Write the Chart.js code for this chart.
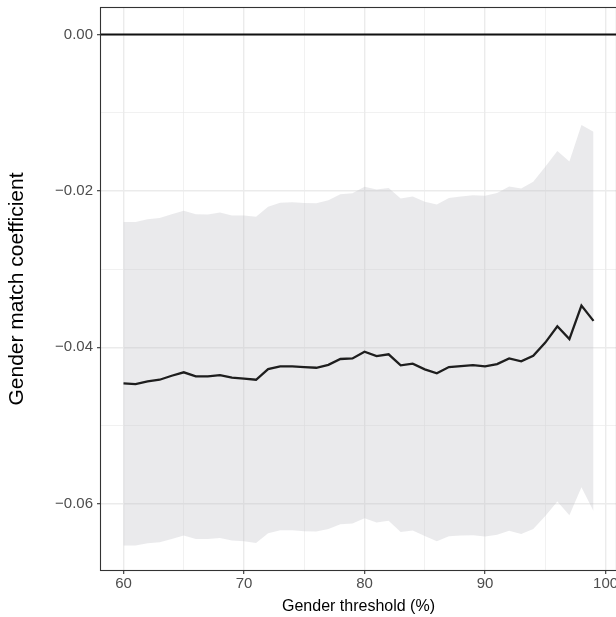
<!DOCTYPE html>
<html>
<head>
<meta charset="utf-8">
<script src="https://cdn.jsdelivr.net/npm/chart.js@4.4.1/dist/chart.umd.min.js"></script>
<style>
  html, body { margin: 0; padding: 0; background: #fff; overflow: hidden; }
  #wrap { width: 640px; height: 617px; }
</style>
</head>
<body>
<div id="wrap"><canvas id="chart" width="640" height="617"></canvas></div>
<script>
// gender threshold (%) on the x axis
const thresholds = [60, 61, 62, 63, 64, 65, 66, 67, 68, 69,
  70, 71, 72, 73, 74, 75, 76, 77, 78, 79,
  80, 81, 82, 83, 84, 85, 86, 87, 88, 89,
  90, 91, 92, 93, 94, 95, 96, 97, 98, 99];

// point estimate
const coef = [-0.04461, -0.04470, -0.04435, -0.04415, -0.04364, -0.04320, -0.04372, -0.04372, -0.04355, -0.04389,
  -0.04400, -0.04415, -0.04280, -0.04245, -0.04245, -0.04255, -0.04262, -0.04224, -0.04150, -0.04142,
  -0.04057, -0.04112, -0.04090, -0.04231, -0.04210, -0.04282, -0.04333, -0.04253, -0.04240, -0.04227,
  -0.04244, -0.04215, -0.04142, -0.04180, -0.04108, -0.03940, -0.03731, -0.03895, -0.03466, -0.03662];

// confidence band
const upper = [-0.02397, -0.02397, -0.02363, -0.02346, -0.02299, -0.02256, -0.02299, -0.02303, -0.02278, -0.02316,
  -0.02316, -0.02330, -0.02202, -0.02151, -0.02147, -0.02155, -0.02160, -0.02121, -0.02045, -0.02032,
  -0.01948, -0.01982, -0.01965, -0.02097, -0.02071, -0.02139, -0.02174, -0.02093, -0.02071, -0.02058,
  -0.02062, -0.02028, -0.01944, -0.01969, -0.01884, -0.01692, -0.01492, -0.01625, -0.01157, -0.01246];

const lower = [-0.06535, -0.06535, -0.06505, -0.06492, -0.06450, -0.06407, -0.06450, -0.06450, -0.06437, -0.06471,
  -0.06480, -0.06501, -0.06377, -0.06339, -0.06339, -0.06352, -0.06356, -0.06322, -0.06262, -0.06254,
  -0.06185, -0.06241, -0.06219, -0.06360, -0.06343, -0.06411, -0.06480, -0.06415, -0.06407, -0.06402,
  -0.06420, -0.06398, -0.06347, -0.06386, -0.06322, -0.06156, -0.05973, -0.06147, -0.05789, -0.06092];

const yTicks = [0, -0.02, -0.04, -0.06];
const xTicks = [60, 70, 80, 90, 100];
const refLine = 0;

const xMin = 58.05, xMax = 100.95;
const yMin = -0.0686, yMax = 0.0035;

const toPts = arr => thresholds.map((t, i) => ({ x: t, y: arr[i] }));
const isMajorY = v => yTicks.some(t => Math.abs(t - v) < 1e-9);

const gridMajor = '#EBEBEB';
const font = '"Liberation Sans", Arial, Helvetica, sans-serif';

// ggplot style panel border on top of everything
const panelBorder = {
  id: 'panelBorder',
  afterDatasetsDraw(chart) {
    const { ctx, chartArea: a } = chart;
    ctx.save();
    ctx.strokeStyle = '#333333';
    ctx.lineWidth = 1.1;
    ctx.strokeRect(a.left + 0.5, a.top + 0.5, a.right - a.left - 1, a.bottom - a.top - 1);
    ctx.restore();
  }
};

new Chart(document.getElementById('chart'), {
  type: 'line',
  data: {
    datasets: [
      {
        label: 'coef',
        data: toPts(coef),
        borderColor: '#1e1e1e',
        borderWidth: 2.3,
        pointRadius: 0,
        tension: 0,
        fill: false,
        order: 0
      },
      {
        label: 'zero',
        data: [{ x: xMin, y: refLine }, { x: xMax, y: refLine }],
        borderColor: '#111111',
        borderWidth: 2,
        pointRadius: 0,
        fill: false,
        order: 1
      },
      {
        label: 'upper',
        data: toPts(upper),
        borderWidth: 0,
        borderColor: 'rgba(0,0,0,0)',
        backgroundColor: 'rgba(190,190,198,0.33)',
        pointRadius: 0,
        tension: 0,
        fill: '+1',
        order: 2
      },
      {
        label: 'lower',
        data: toPts(lower),
        borderWidth: 0,
        borderColor: 'rgba(0,0,0,0)',
        pointRadius: 0,
        tension: 0,
        fill: false,
        order: 3
      }
    ]
  },
  options: {
    responsive: false,
    animation: false,
    layout: { padding: { left: 0, top: 7, right: 23, bottom: 0 } },
    plugins: {
      legend: { display: false },
      tooltip: { enabled: false }
    },
    scales: {
      x: {
        type: 'linear',
        min: xMin,
        max: xMax,
        afterFit(scale) {
          scale.height = 46;
          scale.paddingLeft = 0;
          scale.paddingRight = 0;
        },
        afterBuildTicks(scale) {
          scale.ticks = [60, 65, 70, 75, 80, 85, 90, 95, 100].map(v => ({ value: v }));
        },
        ticks: {
          color: '#4D4D4D',
          font: { family: font, size: 15 },
          padding: 1,
          maxRotation: 0,
          autoSkip: false,
          callback: v => (xTicks.includes(v) ? String(v) : '')
        },
        grid: {
          color: gridMajor,
          lineWidth: c => (xTicks.includes(c.tick.value) ? 1.4 : 0.7),
          tickLength: 3,
          tickColor: c => (xTicks.includes(c.tick.value) ? '#333333' : 'rgba(0,0,0,0)'),
          tickWidth: 1.1
        },
        border: { display: false },
        title: {
          display: true,
          text: 'Gender threshold (%)',
          color: '#000000',
          font: { family: font, size: 16 },
          padding: { top: 0, bottom: 1 }
        }
      },
      y: {
        type: 'linear',
        min: yMin,
        max: yMax,
        afterFit(scale) {
          scale.width = 100;
          scale.paddingTop = 0;
          scale.paddingBottom = 0;
        },
        afterBuildTicks(scale) {
          scale.ticks = [0, -0.01, -0.02, -0.03, -0.04, -0.05, -0.06].map(v => ({ value: v }));
        },
        ticks: {
          color: '#4D4D4D',
          font: { family: font, size: 15 },
          padding: 4,
          callback: v => {
            if (!isMajorY(v)) return '';
            return v === 0 ? '0.00' : '\u2212' + Math.abs(v).toFixed(2);
          }
        },
        grid: {
          color: gridMajor,
          lineWidth: c => (isMajorY(c.tick.value) ? 1.4 : 0.7),
          tickLength: 3,
          tickColor: c => (isMajorY(c.tick.value) ? '#333333' : 'rgba(0,0,0,0)'),
          tickWidth: 1.1
        },
        border: { display: false },
        title: {
          display: true,
          text: 'Gender match coefficient',
          color: '#000000',
          font: { family: font, size: 21 },
          padding: { top: 5, bottom: 0 }
        }
      }
    }
  },
  plugins: [panelBorder]
});
</script>
</body>
</html>
